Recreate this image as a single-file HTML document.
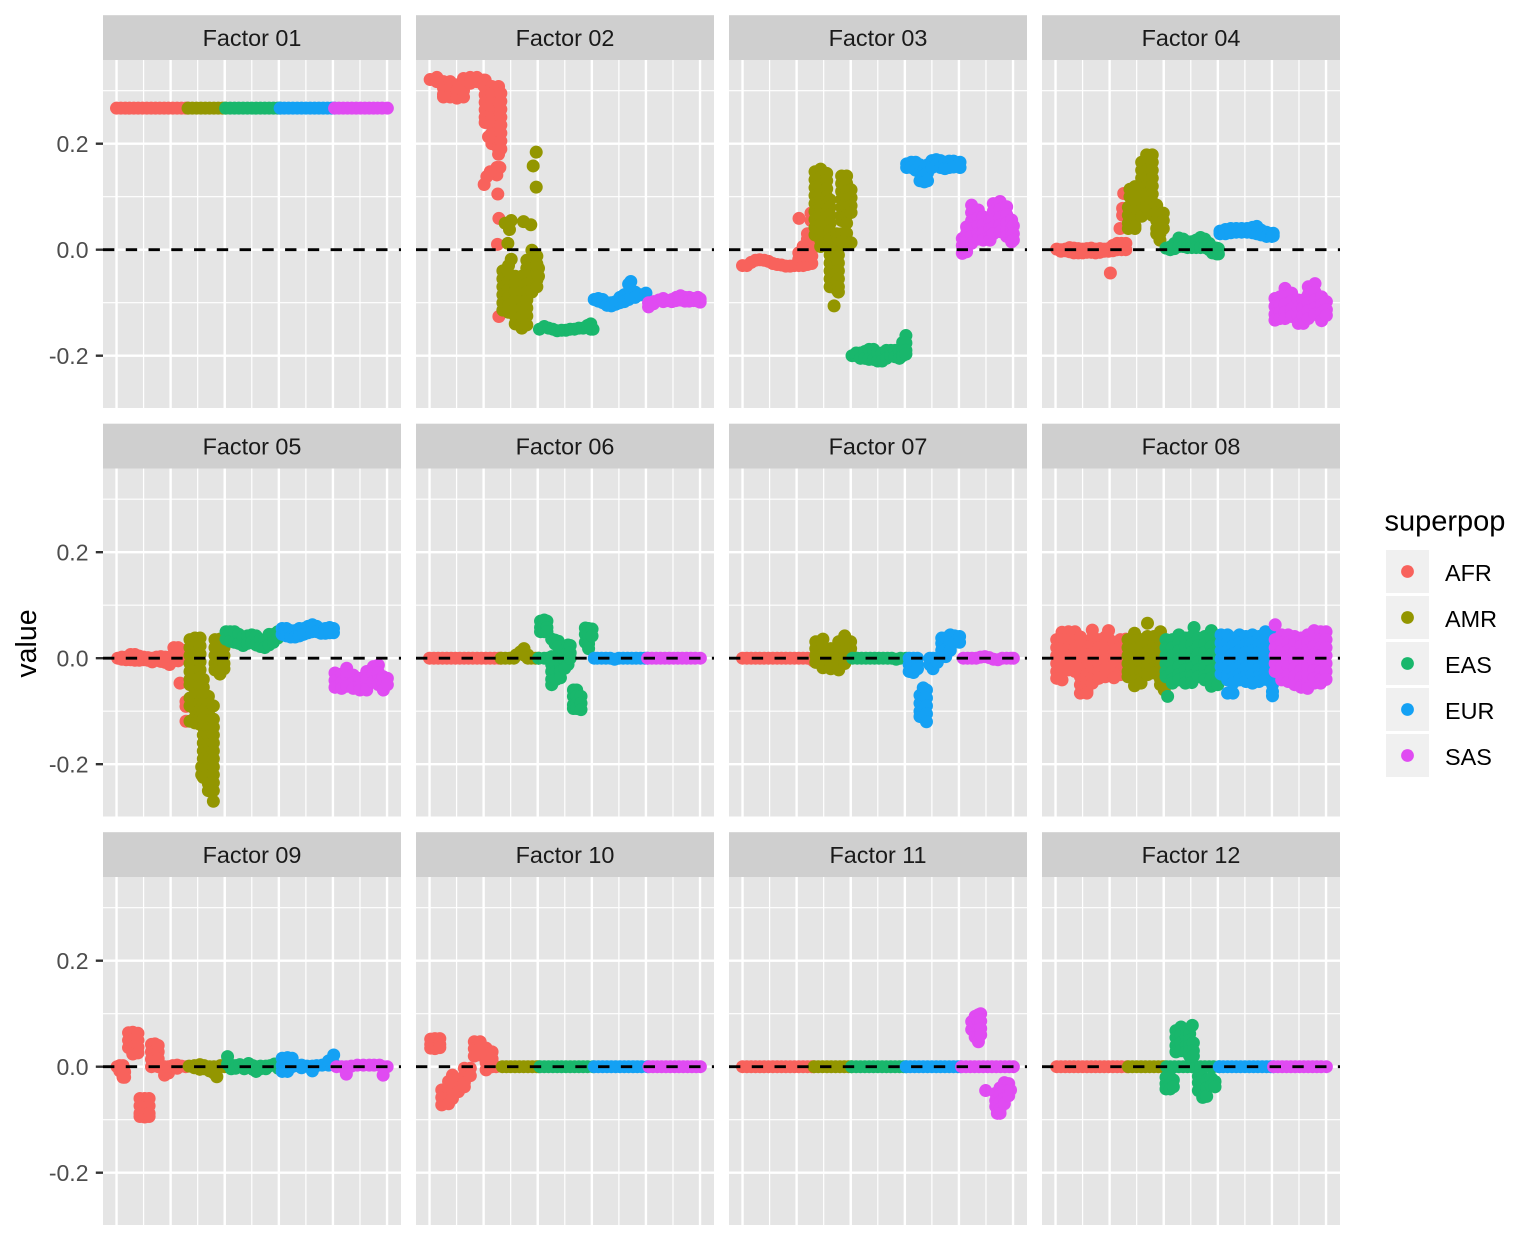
<!DOCTYPE html>
<html lang="en">
<head>
<meta charset="utf-8">
<title>Factor loadings by superpop</title>
<style>
html,body{margin:0;padding:0;background:#fff;}
svg{display:block;font-family:"Liberation Sans",Arial,sans-serif;}
</style>
</head>
<body>
<svg id="chart" xmlns="http://www.w3.org/2000/svg" width="1536" height="1248" viewBox="0 0 1536 1248"></svg>
<script>
const facetTitles = ["Factor 01","Factor 02","Factor 03","Factor 04","Factor 05","Factor 06","Factor 07","Factor 08","Factor 09","Factor 10","Factor 11","Factor 12"];
const superpops = ["AFR","AMR","EAS","EUR","SAS"];
const yTickValues = [0.2,0,-0.2];
const yTickLabels = ["0.2","0.0","-0.2"];
const yMinorValues = [0.3,0.1,-0.1];
const xMajorValues = [0,500,1000,1500,2000,2500];
const xMinorValues = [250,750,1250,1750,2250];
const xDomain = [-125,2629];
const yDomain = [-0.2987,0.3579];
const referenceLine = 0;

// Each row: sample index, then the loading values read at that index.
const f01_AFR=[[0,.267],[40,.267],[80,.267],[120,.267],[160,.267],[200,.267],[240,.267],[280,.267],[320,.267],[360,.267],[400,.267],[440,.267],[480,.267],[520,.267],[560,.267],[600,.267],[640,.267],[660,.267]];
const f01_AMR=[[661,.267],[700,.267],[740,.267],[780,.267],[820,.267],[860,.267],[900,.267],[940,.267],[980,.267],[1007,.267]];
const f01_EAS=[[1008,.267],[1050,.267],[1090,.267],[1130,.267],[1170,.267],[1210,.267],[1250,.267],[1290,.267],[1330,.267],[1370,.267],[1410,.267],[1450,.267],[1490,.267],[1511,.267]];
const f01_EUR=[[1512,.267],[1550,.267],[1590,.267],[1630,.267],[1670,.267],[1710,.267],[1750,.267],[1790,.267],[1830,.267],[1870,.267],[1910,.267],[1950,.267],[1990,.267],[2014,.267]];
const f01_SAS=[[2015,.267],[2055,.267],[2095,.267],[2135,.267],[2175,.267],[2215,.267],[2255,.267],[2295,.267],[2335,.267],[2375,.267],[2415,.267],[2455,.267],[2503,.267]];

const f02_AFR=[[6,.321],[68,.325,.317],[129,.317,.305,.293,.288],[191,.317,.305,.293,.288],[253,.311,.3,.286],[314,.323,.312,.3,.288],[376,.325,.314],[438,.325,.317],[499,.32,.31],[514,.32,.306,.292,.278,.264,.25,.24],[545,.213],[576,.308,.295,.28,.265,.25,.235,.22,.205,.2],[638,.308,.295,.28,.265,.25,.235,.22,.205,.19,.18],[659,.295,.28,.265,.25,.235,.22,.205,.19],[622,.155,.141],[650,.155],[561,.147],[530,.138],[505,.123],[631,.105],[641,.059],[628,.01],[641,-.126]];
const f02_AMR=[[986,.184,.118],[958,.158],[699,.05],[755,.055,-.018],[739,.038],[869,.053],[936,.047],[724,.012],[678,-.04,-.055,-.07,-.085,-.1,-.114],[730,-.03,-.045,-.06,-.075,-.09,-.105,-.118],[792,-.05,-.065,-.08,-.095,-.11,-.125,-.14],[853,-.05,-.065,-.08,-.095,-.11,-.125,-.14,-.148],[899,-.02,-.035,-.05,-.065,-.08,-.095,-.11,-.125,-.142],[946,-.001,-.015,-.03,-.045,-.06,-.075,-.08],[992,-.012,-.027,-.042,-.057,-.07],[1007,-.035,-.05]];
const f02_EAS=[[1016,-.15],[1060,-.145],[1100,-.148],[1140,-.15],[1180,-.153],[1220,-.152],[1260,-.152],[1300,-.15],[1340,-.15],[1380,-.148],[1420,-.148],[1460,-.143],[1490,-.14,-.15],[1511,-.15]];
const f02_EUR=[[1522,-.094],[1560,-.092,-.097],[1600,-.094,-.1],[1640,-.1,-.105],[1680,-.1,-.106],[1720,-.098,-.103],[1760,-.09,-.1],[1800,-.085,-.098],[1840,-.065,-.08,-.094],[1860,-.06,-.075,-.09],[1900,-.08,-.09],[1950,-.085],[2000,-.082]];
const f02_SAS=[[2024,-.1,-.108],[2070,-.098,-.102],[2120,-.095],[2160,-.092,-.098],[2200,-.096],[2240,-.094,-.098],[2280,-.09,-.096],[2320,-.087,-.095],[2360,-.09,-.097],[2400,-.09,-.097],[2440,-.092,-.096],[2480,-.09,-.097],[2501,-.093,-.099]];

const f03_AFR=[[0,-.03],[40,-.03],[80,-.024],[120,-.02],[160,-.019],[200,-.02],[240,-.022],[280,-.026],[320,-.028],[360,-.029],[400,-.031],[440,-.031],[480,-.03],[520,-.03,-.018,-.006],[560,-.03,-.018,-.006,.006],[600,-.028,-.016,-.004,.008,.02,.03],[640,-.026,-.012,0,.012,.03],[522,.059],[633,.069,.055]];
const f03_AMR=[[670,.147,.132,.117,.102,.087,.072,.057,.042,.028],[722,.152,.137,.122,.107,.092,.077,.062,.047,.032,.018,.006],[778,.144,.13,.115,.1,.085,.07,.055,.04,.025,.01],[809,.094,.08,.065,.05,.035,.02,.005,-.01,-.025,-.04,-.055,-.07],[870,.03,.015,0,-.015,-.03,-.045,-.06,-.075],[886,.02,.005,-.01,-.025,-.04,-.055,-.07,-.08],[846,-.106],[916,.139,.125,.11,.095,.08,.065,.055,.03,.015],[962,.139,.125,.11,.095,.08,.065,.05,.031,.013],[1003,.113,.098,.083,.07,.013]];
const f03_EAS=[[1012,-.2],[1050,-.2,-.195],[1090,-.195,-.205],[1130,-.192,-.205],[1170,-.188,-.207],[1210,-.188,-.207],[1250,-.195,-.21],[1290,-.195,-.21],[1330,-.19,-.205],[1370,-.19,-.2],[1410,-.19,-.202],[1450,-.19,-.205],[1480,-.175,-.19,-.2],[1510,-.162,-.176,-.19,-.197]];
const f03_EUR=[[1517,.162,.155],[1560,.165,.155],[1600,.165,.15],[1640,.16,.145,.13],[1680,.15,.14,.128],[1710,.16,.145,.13],[1750,.168,.155],[1790,.17,.16],[1830,.168,.155],[1870,.165,.153],[1910,.167,.155],[1950,.167,.156],[2010,.165,.155]];
const f03_SAS=[[2031,.021,.008,-.007],[2071,.043,.03,.015,.005,-.004],[2117,.084,.07,.055,.04,.025,.012],[2179,.075,.06,.045,.03,.02],[2225,.062,.047,.032,.018],[2287,.056,.04,.025,.018],[2318,.087,.072,.057,.042,.03],[2380,.091,.076,.061,.046,.034],[2441,.081,.066,.05,.036,.025],[2487,.056,.04,.025,.015],[2503,.045,.03,.018]];

const f04_AFR=[[11,.001],[50,0,-.003],[90,.001,-.002],[130,.004,-.004],[170,.003,-.006],[210,.002,-.006],[250,.001,-.006],[290,.002,-.005],[330,.003,-.005],[370,.001,-.006],[410,.002,-.005],[450,.001,-.003],[490,.002,-.003],[530,.008,-.002],[570,.012,0],[610,.012,0],[650,.012,0],[507,-.044],[596,.04],[630,.106],[620,.078,.065]];
const f04_AMR=[[673,.08,.065,.05,.04],[688,.114,.1],[734,.119,.105,.09,.075,.06,.045,.04],[796,.165,.15,.135,.12,.105,.09,.075,.063],[842,.179,.165,.15,.135,.12,.105,.09,.08],[894,.179,.165,.15,.135,.12,.105,.09,.075,.065],[935,.084,.07,.055,.04,.03],[965,.03,.018],[996,.069,.055,.04]];
const f04_EAS=[[1021,.003],[1060,.005,0],[1100,.012,.002],[1140,.022,.006],[1180,.02,.006],[1220,.015,.004],[1260,.015,.004],[1300,.018,.004],[1340,.023,.004],[1380,.02,.004],[1420,.012,0],[1450,.005,-.006],[1490,.003,-.008],[1505,.002,-.008]];
const f04_EUR=[[1520,.035,.03],[1570,.038,.03],[1620,.04,.032],[1670,.04,.033],[1720,.04,.033],[1770,.04,.033],[1820,.042,.032],[1860,.044,.03],[1900,.037,.028],[1950,.033,.025],[2000,.03,.025],[2012,.031,.026]];
const f04_SAS=[[2028,-.092,-.107,-.122,-.133],[2074,-.089,-.104,-.119,-.13],[2121,-.073,-.088,-.103,-.118,-.13],[2182,-.082,-.097,-.112,-.126],[2244,-.095,-.11,-.125,-.139],[2290,-.095,-.11,-.125,-.139],[2336,-.07,-.085,-.1,-.115,-.13],[2398,-.064,-.08,-.095,-.11,-.122],[2459,-.089,-.104,-.119,-.134],[2503,-.098,-.113,-.124]];

const f05_AFR=[[11,0],[50,.002,-.002],[90,.002,-.003],[130,.007,-.003],[170,.007,-.004],[210,.004,-.004],[250,.002,-.003],[290,.001,-.004],[330,0,-.007],[370,.002,-.004],[410,.003,-.006],[450,.002,-.008],[490,.002,-.012],[530,.02,.005,-.005],[570,.02,.005,-.005],[610,.015,0],[587,-.047],[642,-.082,-.091,-.119]];
const f05_AMR=[[679,.035,.02,.005,-.01,-.025,-.04,-.05,-.075,-.09,-.119],[725,.038,.023,.008,-.007,-.022,-.037,-.052,-.067,-.082,-.097,-.112,-.122],[772,.038,.023,.008,-.007,-.022,-.037,-.052,-.067,-.082,-.097,-.112,-.125],[787,-.205,-.22],[802,-.04,-.055,-.07,-.085,-.1,-.115,-.13,-.145,-.16,-.175,-.19,-.21,-.225],[849,-.072,-.087,-.102,-.117,-.132,-.147,-.162,-.177,-.192,-.207,-.222,-.237,-.25],[895,-.09,-.115,-.13,-.145,-.16,-.175,-.19,-.205,-.22,-.235,-.25,-.27],[910,.035,.02,.005,-.01,-.022],[956,.036,.02,.005,-.01,-.025,-.03],[993,.02,.005,-.01,-.02]];
const f05_EAS=[[1012,.05,.036],[1050,.05,.032],[1090,.05,.03],[1130,.045,.028],[1170,.04,.024],[1210,.042,.028],[1250,.044,.03],[1290,.042,.025],[1330,.035,.022],[1370,.035,.02],[1410,.045,.025],[1450,.045,.03],[1490,.05,.038]];
const f05_EUR=[[1530,.056,.045],[1570,.056,.042],[1610,.052,.04],[1650,.052,.04],[1690,.056,.042],[1730,.056,.045],[1770,.06,.048],[1810,.063,.05],[1850,.06,.05],[1890,.055,.047],[1930,.056,.047],[1970,.058,.048],[2005,.056,.048]];
const f05_SAS=[[2019,-.028,-.042,-.055],[2080,-.03,-.045,-.057],[2127,-.019,-.033,-.048,-.053],[2188,-.032,-.047,-.057],[2250,-.038,-.052,-.06],[2312,-.025,-.04,-.055,-.06],[2373,-.016,-.03,-.045],[2420,-.013,-.027,-.042,-.05],[2466,-.035,-.05,-.06],[2503,-.038,-.05]];

const f06_AFR=[[0,0],[40,0],[80,0],[120,0],[160,0],[200,0],[240,0],[280,0],[320,0],[360,0],[400,0],[440,0],[480,0],[520,0],[560,0],[600,0],[640,0],[660,0]];
const f06_AMR=[[661,0],[700,0],[740,0],[780,0],[800,.006],[840,.012],[873,.018,.006],[909,.006,0],[940,0],[980,0],[1007,0]];
const f06_EAS=[[1008,0],[1026,.07,.058,.05],[1060,.072,.06,.05,0],[1085,.07,.058,.05],[1090,0],[1129,.036,.003,-.012,-.025,-.04,-.05],[1160,.034,.027],[1170,.003,-.012,-.025,-.04],[1190,.032,.022],[1210,0,-.012,-.025,-.037],[1240,.012,0],[1250,-.005,-.019],[1280,.025,.012,0,-.012],[1300,.024,.01,0],[1330,-.06,-.072,-.088,-.095],[1360,-.06,-.072,-.085,-.095],[1400,-.072,-.085,-.097],[1440,.057,.045,.03],[1470,.056,.043,.027,.018],[1502,.055,.042]];
const f06_EUR=[[1522,0],[1550,0],[1590,0],[1630,0],[1670,0],[1710,-.002],[1750,0],[1790,0],[1830,0],[1870,0],[1910,0],[1950,0],[1990,0],[2014,0]];
const f06_SAS=[[2015,0],[2055,0],[2095,0],[2135,0],[2175,0],[2215,0],[2255,0],[2295,0],[2335,0],[2375,0],[2415,0],[2455,0],[2503,0]];

const f07_AFR=[[0,0],[40,0],[80,0],[120,0],[160,0],[200,0],[240,0],[280,0],[320,0],[360,0],[400,0],[440,0],[480,0],[520,0],[560,0],[600,0],[640,0],[655,-.005]];
const f07_AMR=[[677,.031,.018,.005,-.008],[743,.036,.022,.008,-.005,-.018],[816,.018,.004,-.01,-.02],[889,.031,.018,.004,-.01,-.022],[944,.042,.028,.014,0,-.01],[999,.031,.018,.008]];
const f07_EAS=[[1017,0],[1060,0],[1100,0],[1140,0],[1180,0],[1220,0],[1260,0],[1300,0],[1340,0],[1380,0],[1420,-.002],[1460,0],[1511,0]];
const f07_EUR=[[1540,0,-.012,-.025],[1580,0,-.012,-.027],[1617,0,-.012,-.02],[1731,0,-.012],[1760,0,-.012,-.02],[1800,0,-.008],[1841,.003,.015,.028,.038],[1878,.028,.038,.016,.003],[1920,.044,.03,.015],[1960,.042,.03],[2006,.041,.03],[1640,-.07,-.085,-.1,-.11],[1670,-.056,-.07,-.085,-.1,-.112],[1700,-.06,-.075,-.09,-.105,-.12]];
const f07_SAS=[[2040,0],[2080,0],[2120,0],[2160,0],[2200,.002],[2240,.003],[2280,.001],[2320,-.002],[2360,-.003],[2400,0],[2440,0],[2480,0],[2503,0]];

const f08_AFR=[[11,.035,.02,.005,-.01,-.025,-.038],[60,.049,.034,.019,.004,-.011,-.026,-.041],[120,.05,.035,.02,.005,-.01,-.022],[180,.05,.035,.02,.005,-.01,-.025],[230,.04,.025,.01,-.005,-.02,-.035,-.05,-.066],[290,.028,.013,-.002,-.017,-.032,-.047,-.062,-.066],[340,.053,.038,.023,.008,-.007,-.022,-.037,-.047],[400,.035,.02,.005,-.01,-.025,-.038],[460,.04,.025,.01,-.005,-.02,-.035],[490,.052,.037],[540,.03,.015,0,-.015,-.03,-.037],[600,.035,.02,.005,-.01,-.025,-.031],[650,.036,.02,.005,-.01,-.025]];
const f08_AMR=[[670,.035,.02,.005,-.01,-.025,-.035],[730,.047,.032,.017,.002,-.013,-.028,-.043,-.052],[790,.035,.02,.005,-.01,-.025,-.04,-.047],[850,.066,.041,.026,.011,-.004,-.019,-.031],[910,.041,.026,.011,-.004,-.019,-.028],[970,.05,.035,.02,.005,-.01,-.025,-.04,-.05],[1005,.035,.02,.005,-.01,-.025,-.04,-.055,-.06]];
const f08_EAS=[[1021,.035,.02,.005,-.01,-.025,-.035],[1036,-.072],[1080,.035,.02,.005,-.01,-.025,-.04,-.047],[1140,.044,.029,.014,-.001,-.016,-.031,-.041],[1200,.038,.023,.008,-.007,-.022,-.037,-.047],[1260,.041,.026,.011,-.004,-.019,-.034,-.046],[1280,.058],[1320,.038,.023,.008,-.007,-.022,-.035],[1380,.041,.026,.011,-.004,-.019,-.034,-.041],[1440,.052,.037,.022,.007,-.008,-.023,-.038,-.053],[1500,.041,.026,.011,-.004,-.019,-.034,-.05]];
const f08_EUR=[[1530,.044,.029,.014,-.001,-.016,-.03],[1590,.044,.029,.014,-.001,-.016,-.031,-.041,-.066],[1640,.038,.023,.008,-.007,-.022,-.037,-.047,-.066],[1700,.044,.029,.014,-.001,-.016,-.031,-.041],[1760,.041,.026,.011,-.004,-.019,-.034,-.044],[1820,.044,.029,.014,-.001,-.016,-.031,-.047],[1880,.041,.026,.011,-.004,-.019,-.034,-.044],[1940,.05,.035,.02,.005,-.01,-.025,-.04],[2005,.044,.029,.014,-.001,-.016,-.031,-.05,-.063,-.071]];
const f08_SAS=[[2030,.063,.035,.02,.005,-.01,-.025],[2090,.044,.029,.014,-.001,-.016,-.031,-.041],[2150,.044,.029,.014,-.001,-.016,-.031,-.044],[2210,.041,.026,.011,-.004,-.019,-.034,-.05],[2270,.038,.023,.008,-.007,-.022,-.037,-.052,-.055],[2330,.044,.029,.014,-.001,-.016,-.031,-.046,-.057],[2390,.052,.037,.022,.007,-.008,-.023,-.038,-.047],[2450,.05,.035,.02,.005,-.01,-.025,-.04,-.047],[2500,.05,.035,.02,.005,-.01,-.025,-.04]];

const f09_AFR=[[5,0],[30,.002,-.008],[60,.002,-.01,-.02],[75,-.01,-.02],[111,.064,.05,.036],[150,.065,.05,.036,.024],[198,.063,.05,.037,.026],[323,.042,.028,.014,0],[355,.043,.03,.016,.003],[385,.04,.028,.015,0],[400,0],[444,0,-.016],[480,-.012,0],[520,.002],[560,.003,-.003],[600,.001],[640,0],[217,-.06,-.074,-.088,-.094],[260,-.06,-.074,-.088,-.095],[301,-.06,-.074,-.088,-.094]];
const f09_AMR=[[671,.001],[720,.002,-.002],[770,.004,-.005],[810,.002,-.004],[860,0,-.008],[900,0,-.012],[927,-.006,-.019],[960,.002],[1000,0]];
const f09_EAS=[[1026,.019,.005],[1060,.003,-.004],[1100,.002,-.003],[1140,.004],[1180,0,-.004],[1220,.006],[1260,.002,-.005],[1290,0,-.009],[1330,.001,-.004],[1380,.001,-.004],[1420,.002],[1460,.005],[1495,.003,-.003]];
const f09_EUR=[[1531,.016,.002,-.009],[1580,.017,.003,-.009],[1623,.016,0],[1670,.002],[1710,.003,-.002],[1760,.001],[1810,.001,-.008],[1850,.002],[1900,.003],[1960,.003,.011],[2007,.022,.006]];
const f09_SAS=[[2033,0],[2080,0],[2124,0,-.014],[2170,.001],[2226,.003],[2281,.003],[2336,.003],[2380,.003],[2430,.003],[2464,0,-.016],[2501,0]];

const f10_AFR=[[11,.052,.042,.035],[50,.053,.042,.034],[95,.053,.042,.036],[113,-.044,-.058,-.072],[176,-.028,-.042,-.056,-.07],[212,-.016,-.03,-.044,-.06],[267,-.025,-.04,-.047],[322,-.003,-.017,-.03,-.038],[377,-.003,-.017],[414,.047,.034,.02],[468,.047,.035,.022],[523,.035,.02,.008,-.006],[578,.028,.015,0],[615,0]];
const f10_AMR=[[673,0],[710,0],[750,0],[790,0],[830,0],[870,0],[910,0],[950,0],[990,0],[1007,0]];
const f10_EAS=[[1021,0],[1060,0],[1100,0],[1140,0],[1180,0],[1220,0],[1260,0],[1300,0],[1340,0],[1380,0],[1420,0],[1460,0],[1511,0]];
const f10_EUR=[[1523,0],[1560,0],[1600,0],[1640,0],[1680,0],[1720,0],[1760,0],[1800,0],[1840,0],[1880,0],[1920,0],[1960,0],[2014,0]];
const f10_SAS=[[2028,0],[2065,0],[2105,0],[2145,0],[2185,0],[2225,0],[2265,0],[2305,0],[2345,0],[2385,0],[2425,0],[2465,0],[2503,0]];

const f11_AFR=[[0,0],[40,0],[80,0],[120,0],[160,0],[200,0],[240,0],[280,0],[320,0],[360,0],[400,0],[440,0],[480,0],[520,0],[560,0],[600,0],[640,0],[660,0]];
const f11_AMR=[[661,0],[700,0],[740,0],[780,0],[820,0],[860,0],[900,0],[940,0],[980,0],[1007,0]];
const f11_EAS=[[1008,0],[1050,0],[1090,0],[1130,0],[1170,0],[1210,0],[1250,0],[1290,0],[1330,0],[1370,0],[1410,0],[1450,0],[1490,0],[1511,0]];
const f11_EUR=[[1512,0],[1550,0],[1590,0],[1630,0],[1670,0],[1710,0],[1750,0],[1790,0],[1830,0],[1870,0],[1910,0],[1950,0],[1990,0],[2014,0]];
const f11_SAS=[[2025,0],[2065,0],[2105,0],[2145,0],[2185,0],[2225,0],[2265,0],[2305,0],[2345,0],[2385,0],[2425,0],[2465,0],[2503,0],[2118,.085,.07],[2150,.095,.08,.068,.056],[2180,.098,.084,.07,.058,.047],[2201,.1,.086,.072,.06],[2247,-.045],[2340,-.05,-.064,-.075],[2355,-.08,-.088],[2380,-.04,-.052,-.066,-.08,-.088],[2420,-.03,-.045,-.06,-.07],[2460,-.032,-.045,-.055],[2477,-.044]];

const f12_AFR=[[11,0],[50,0],[90,0],[130,0],[170,0],[210,0],[250,0],[290,0],[330,0],[370,0],[410,0],[450,0],[490,0],[530,0],[570,0],[610,0],[660,0]];
const f12_AMR=[[673,0],[710,0],[750,0],[790,0],[830,0],[870,0],[910,0],[950,0],[990,0],[1007,0]];
const f12_EAS=[[1027,0],[1060,0],[1100,0],[1140,0],[1180,0],[1220,0],[1260,0],[1300,0],[1340,0],[1380,0],[1420,0],[1460,0],[1511,0],[1113,.068,.055,.04,.028],[1160,.075,.06,.045,.03],[1210,.07,.055,.04,.028],[1240,.062,.05,.04,.03,.02],[1264,.078],[1274,.045,.03,.02],[1021,-.02,-.032,-.042],[1060,-.02,-.032,-.042],[1089,-.025,-.038],[1320,-.018,-.03,-.045],[1360,-.02,-.034,-.048,-.058],[1397,-.025,-.04,-.056],[1440,-.022,-.036],[1474,-.028,-.038]];
const f12_EUR=[[1514,0],[1550,0],[1590,0],[1630,0],[1670,0],[1710,0],[1750,0],[1790,0],[1830,0],[1870,0],[1910,0],[1950,0],[1990,0],[2014,0]];
const f12_SAS=[[2015,0],[2055,0],[2095,0],[2135,0],[2175,0],[2215,0],[2255,0],[2295,0],[2335,0],[2375,0],[2415,0],[2455,0],[2503,0]];

const factorSeries = [
  [f01_AFR,f01_AMR,f01_EAS,f01_EUR,f01_SAS],
  [f02_AFR,f02_AMR,f02_EAS,f02_EUR,f02_SAS],
  [f03_AFR,f03_AMR,f03_EAS,f03_EUR,f03_SAS],
  [f04_AFR,f04_AMR,f04_EAS,f04_EUR,f04_SAS],
  [f05_AFR,f05_AMR,f05_EAS,f05_EUR,f05_SAS],
  [f06_AFR,f06_AMR,f06_EAS,f06_EUR,f06_SAS],
  [f07_AFR,f07_AMR,f07_EAS,f07_EUR,f07_SAS],
  [f08_AFR,f08_AMR,f08_EAS,f08_EUR,f08_SAS],
  [f09_AFR,f09_AMR,f09_EAS,f09_EUR,f09_SAS],
  [f10_AFR,f10_AMR,f10_EAS,f10_EUR,f10_SAS],
  [f11_AFR,f11_AMR,f11_EAS,f11_EUR,f11_SAS],
  [f12_AFR,f12_AMR,f12_EAS,f12_EUR,f12_SAS]
];

const colours = ["#F8625C","#939600","#19B76C","#14A1F4","#E04BF2"];
const NS = "http://www.w3.org/2000/svg";
const svg = document.getElementById("chart");
const PANEL_W = 298, PANEL_H = 348, STRIP_H = 44.6;
const COL_X = [103,416,729,1042];
const ROW_Y = [60,468.5,877];

function make(tag, parent, attrs) {
  const el = document.createElementNS(NS, tag);
  for (const k in attrs) el.setAttribute(k, attrs[k]);
  parent.appendChild(el);
  return el;
}
function xScale(i, col) {
  return COL_X[col] + (i - xDomain[0]) / (xDomain[1] - xDomain[0]) * PANEL_W;
}
function yScale(v, row) {
  return ROW_Y[row] + (yDomain[1] - v) / (yDomain[1] - yDomain[0]) * PANEL_H;
}

facetTitles.forEach(function (title, p) {
  const col = p % 4, row = Math.floor(p / 4);
  const left = COL_X[col], top = ROW_Y[row];
  const g = make("g", svg, {});
  
  

  const strip = make("rect", g, {x:left, y:top-STRIP_H-0.2, width:PANEL_W, height:STRIP_H+0.2, fill:"#CFCFCF"});
  
  
  const stripText = make("text", g, {x:left+PANEL_W/2, y:top-14.2, "text-anchor":"middle", "font-size":23.4, fill:"#1A1A1A"});
  stripText.textContent = title;
  
  

  const bg = make("rect", g, {x:left, y:top, width:PANEL_W, height:PANEL_H, fill:"#E5E5E5"});
  
  

  xMinorValues.forEach(function (v) {
    const l = make("line", g, {x1:xScale(v,col), x2:xScale(v,col), y1:top, y2:top+PANEL_H, stroke:"#fff", "stroke-width":1.2});
    
    
  });
  yMinorValues.forEach(function (v) {
    const l = make("line", g, {x1:left, x2:left+PANEL_W, y1:yScale(v,row), y2:yScale(v,row), stroke:"#fff", "stroke-width":1.2});
    
    
  });
  xMajorValues.forEach(function (v) {
    const l = make("line", g, {x1:xScale(v,col), x2:xScale(v,col), y1:top, y2:top+PANEL_H, stroke:"#fff", "stroke-width":2.4});
    
    
  });
  yTickValues.forEach(function (v) {
    const l = make("line", g, {x1:left, x2:left+PANEL_W, y1:yScale(v,row), y2:yScale(v,row), stroke:"#fff", "stroke-width":2.4});
    
    
  });

  factorSeries[p].forEach(function (series, s) {
    const sg = make("g", g, {fill:colours[s]});
    
    
    series.forEach(function (rowValues) {
      rowValues.slice(1).forEach(function (value) {
        const c = make("circle", sg, {cx:xScale(rowValues[0],col), cy:yScale(value,row), r:6.5});
        
        
      });
    });
  });

  const ref = make("line", g, {x1:left, x2:left+PANEL_W, y1:yScale(referenceLine,row), y2:yScale(referenceLine,row), stroke:"#000", "stroke-width":2.85, "stroke-dasharray":"11.38 11.38"});
  
  

  if (col === 0) {
    yTickValues.forEach(function (v, t) {
      const y = yScale(v,row);
      const tick = make("line", g, {x1:left-7.2, x2:left, y1:y, y2:y, stroke:"#333", "stroke-width":2.4});
      
      
      const label = make("text", g, {x:88.5, y:y+8.3, "text-anchor":"end", "font-size":23, fill:"#4D4D4D"});
      label.textContent = yTickLabels[t];
      
      
    });
  }
});

const yTitle = make("text", svg, {transform:"translate(36,643.5) rotate(-90)", "text-anchor":"middle", "font-size":28.6, fill:"#000"});
yTitle.textContent = "value";



const legend = make("g", svg, {});


const legendTitle = make("text", legend, {x:1384.5, y:530.5, "font-size":29, fill:"#000"});
legendTitle.textContent = "superpop";


superpops.forEach(function (name, i) {
  const y = 550 + i * 46;
  const entry = make("g", legend, {});
  
  
  make("rect", entry, {x:1386, y:y, width:43, height:43, fill:"#F0F0F0"});
  make("circle", entry, {cx:1407.5, cy:y+21.5, r:6.4, fill:colours[i]});
  const t = make("text", entry, {x:1445, y:y+31, "font-size":23.4, fill:"#000"});
  t.textContent = name;
});
</script>
</body>
</html>
